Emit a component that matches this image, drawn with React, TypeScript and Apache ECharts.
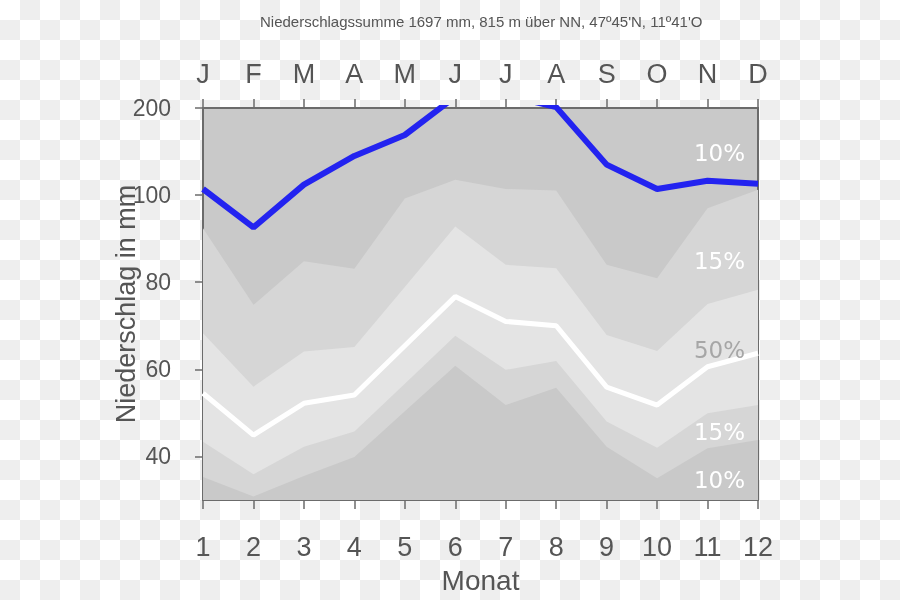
import React, { useEffect, useRef } from "react";
import * as echarts from "echarts";

const months = [1, 2, 3, 4, 5, 6, 7, 8, 9, 10, 11, 12];
const monthLetters = ["J", "F", "M", "A", "M", "J", "J", "A", "S", "O", "N", "D"];
const precipitation = [107, 92.6, 112, 145, 169, 213, 215, 201, 135, 107, 116.5, 113];
const p10 = [35.3, 30.8, 35.5, 39.9, 50.4, 60.8, 51.8, 55.8, 42.2, 35.0, 41.9, 43.8];
const p25 = [43.4, 35.9, 42.2, 45.7, 56.7, 67.7, 59.9, 61.9, 48.0, 42.0, 49.9, 51.8];
const median = [54.5, 44.9, 52.2, 54.1, 65.4, 76.7, 71.0, 70.0, 55.9, 51.8, 60.6, 63.7];
const p75 = [68.3, 56.0, 64.1, 65.1, 78.9, 92.8, 84.0, 83.2, 67.9, 64.2, 75.0, 78.3];
const p90 = [92.4, 74.8, 84.8, 83.1, 99.2, 117.6, 107, 105.3, 84.0, 80.9, 97.0, 106.2];
const yTickValues = [40, 60, 80, 100, 200];
const bandLabels = ["10%", "15%", "50%", "15%", "10%"];
const bandLabelY = [153, 261, 350, 432, 480];
const bandLabelColors = ["#ffffff", "#ffffff", "#a6a6a6", "#ffffff", "#ffffff"];
const title = "Niederschlagssumme 1697 mm, 815 m über NN, 47º45'N, 11º41'O";

// above 100 mm the scale is compressed 1:5
const tr = (v: number) => (v <= 100 ? v : 100 + (v - 100) / 5);
const inv = (t: number) => (t <= 100 ? t : 100 + (t - 100) * 5);

const toData = (arr: number[]) => arr.map((v, i) => [months[i], tr(v)]);

const DARK = "#c9c9c9";
const MID = "#d6d6d6";
const LIGHT = "#e4e4e4";
const AXIS = "#6b6b6b";
const TEXT = "#555555";
const NARROW = "'Liberation Sans Narrow', 'Liberation Sans', sans-serif";
const SANS = "'Liberation Sans', Arial, sans-serif";

function band(name: string, arr: number[], color: string) {
  return {
    name,
    type: "line",
    data: toData(arr),
    showSymbol: false,
    symbol: "none",
    lineStyle: { width: 0 },
    areaStyle: { color, opacity: 1, origin: "start" },
    silent: true,
  };
}

export default function App() {
  const ref = useRef<HTMLDivElement>(null);

  useEffect(() => {
    if (!ref.current) return;
    const chart = echarts.init(ref.current, null, { renderer: "svg" });
    const yCustom = yTickValues.map(tr);
    chart.setOption({
      animation: false,
      backgroundColor: "transparent",
      title: {
        text: title,
        left: 255,
        top: 9,
        textStyle: { fontFamily: NARROW, fontSize: 15, fontWeight: "normal", color: TEXT },
      },
      grid: {
        left: 203,
        right: 142,
        top: 108,
        bottom: 100,
        show: true,
        backgroundColor: DARK,
        borderColor: AXIS,
        borderWidth: 2,
      },
      xAxis: [
        {
          type: "value",
          min: 1,
          max: 12,
          interval: 1,
          position: "bottom",
          name: "Monat",
          nameLocation: "middle",
          nameGap: 66,
          nameMoveOverlap: false,
          nameTextStyle: { fontFamily: NARROW, fontSize: 28, color: TEXT },
          axisLine: { show: true, lineStyle: { color: AXIS, width: 2 } },
          axisTick: { show: true, inside: false, length: 9, lineStyle: { color: AXIS, width: 1.5 } },
          axisLabel: { fontFamily: NARROW, fontSize: 27, color: TEXT, margin: 33 },
          splitLine: { show: false },
        },
        {
          type: "value",
          min: 1,
          max: 12,
          interval: 1,
          position: "top",
          axisLine: { show: true, lineStyle: { color: AXIS, width: 2 } },
          axisTick: { show: true, inside: false, length: 9, lineStyle: { color: AXIS, width: 1.5 } },
          axisLabel: {
            fontFamily: NARROW,
            fontSize: 27,
            color: TEXT,
            margin: 21,
            formatter: (v: number) => monthLetters[Math.round(v) - 1] ?? "",
          },
          splitLine: { show: false },
        },
      ],
      yAxis: {
        type: "value",
        min: 30,
        max: 120,
        name: "Niederschlag in mm",
        nameLocation: "middle",
        nameGap: 64,
        nameRotate: 90,
        nameMoveOverlap: false,
        nameTextStyle: { fontFamily: SANS, fontSize: 27, color: TEXT },
        axisLine: { show: true, lineStyle: { color: AXIS, width: 2 } },
        axisTick: {
          show: true,
          inside: false,
          length: 8,
          customValues: yCustom,
          lineStyle: { color: AXIS, width: 1.5 },
        },
        axisLabel: {
          fontFamily: SANS,
          fontSize: 23,
          color: TEXT,
          margin: 32,
          customValues: yCustom,
          showMaxLabel: true,
          formatter: (v: number) => String(Math.round(inv(v))),
        },
        splitLine: { show: false },
      },
      series: [
        band("p90", p90, MID),
        band("p75", p75, LIGHT),
        band("p25", p25, MID),
        band("p10", p10, DARK),
        {
          name: "median",
          type: "line",
          data: toData(median),
          showSymbol: false,
          symbol: "none",
          lineStyle: { color: "#ffffff", width: 5 },
          silent: true,
        },
        {
          name: "Niederschlag",
          type: "line",
          data: toData(precipitation),
          showSymbol: false,
          symbol: "none",
          clip: true,
          lineStyle: { color: "#2323f0", width: 6 },
          silent: true,
        },
      ],
      graphic: bandLabels.map((t, i) => ({
        type: "text",
        right: 155,
        top: bandLabelY[i] - 12,
        z: 100,
        style: {
          text: t,
          fontFamily: "'DejaVu Sans', sans-serif",
          fontSize: 23,
          fill: bandLabelColors[i],
        },
      })),
    });
    return () => chart.dispose();
  }, []);

  return (
    <div
      style={{
        position: "fixed",
        left: 0,
        top: 0,
        width: 900,
        height: 600,
        background: "repeating-conic-gradient(#eeeeee 0 25%, #ffffff 0 50%) 0 0 / 40px 40px",
      }}
    >
      <div ref={ref} style={{ width: 900, height: 600 }} />
    </div>
  );
}
